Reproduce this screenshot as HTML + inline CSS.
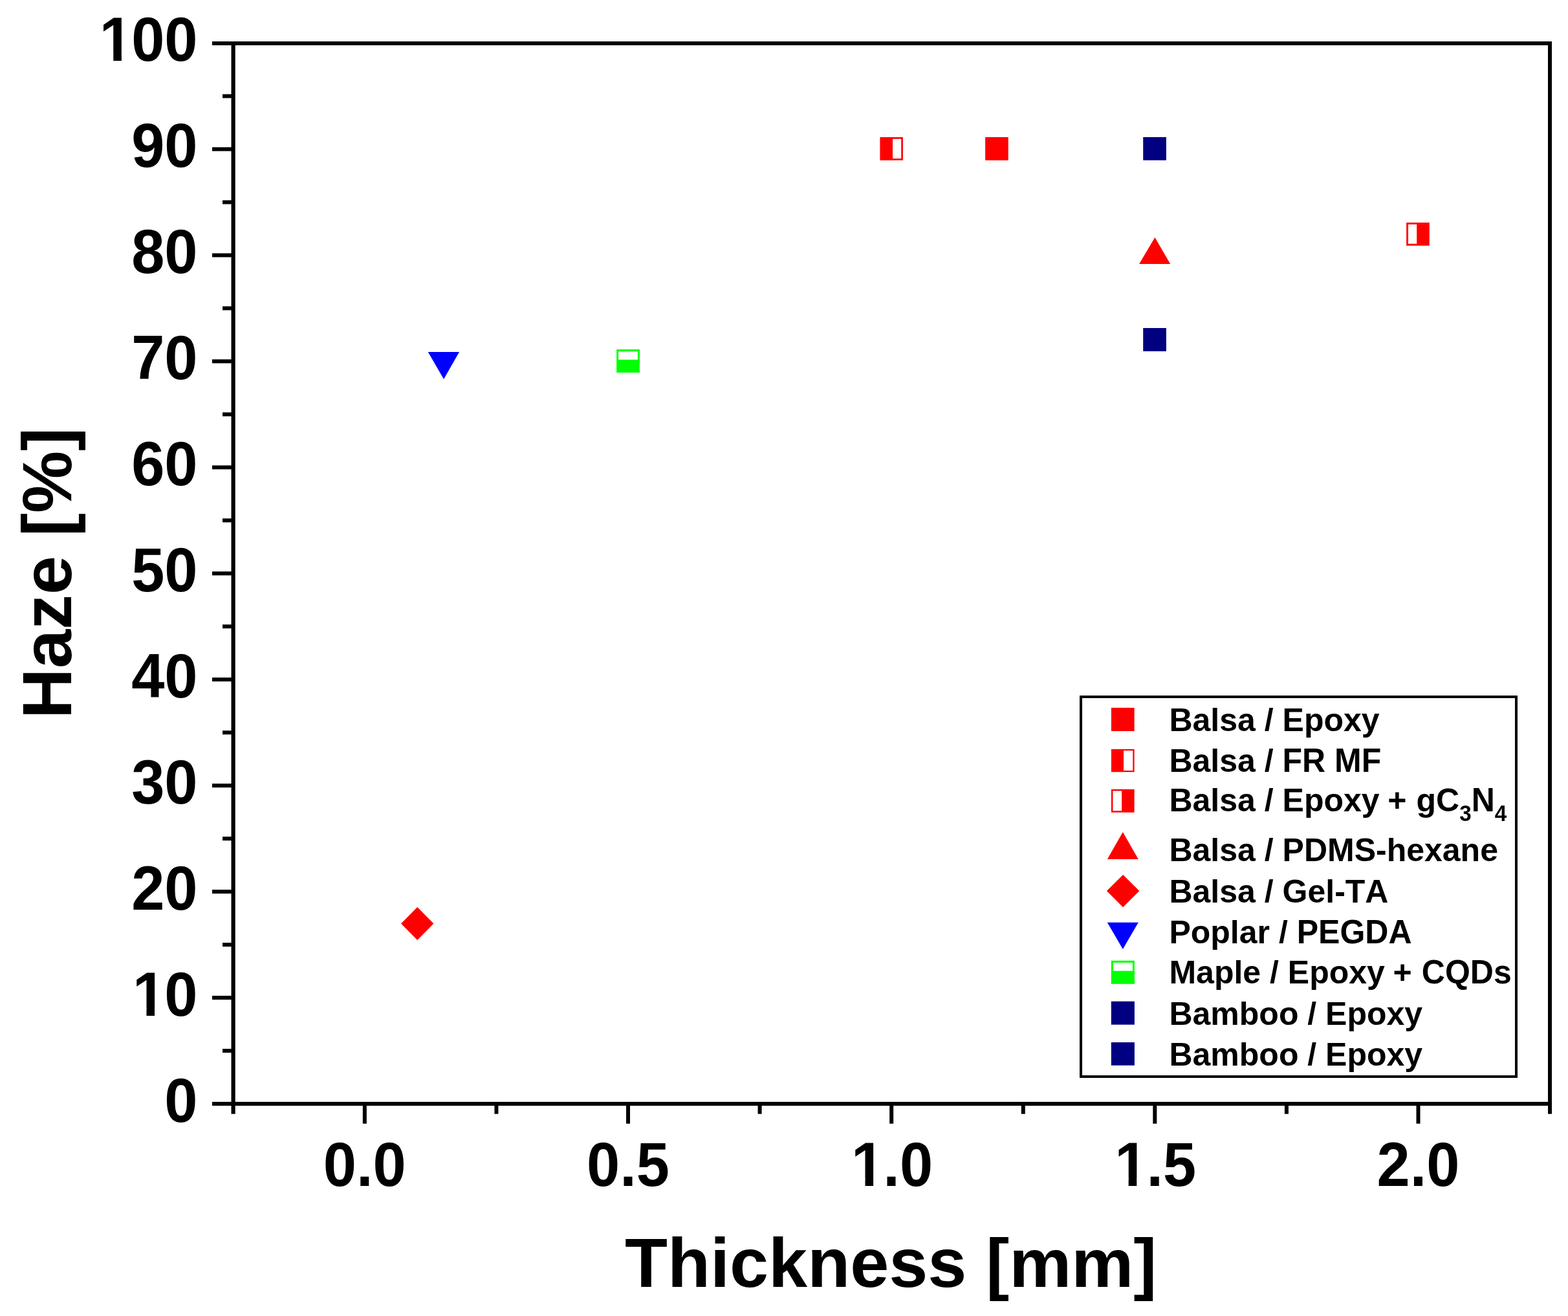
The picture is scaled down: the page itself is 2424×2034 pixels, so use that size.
<!DOCTYPE html>
<html lang="en"><head><meta charset="utf-8"><title>Haze vs Thickness</title>
<style>
html,body{margin:0;padding:0;background:#fff;width:2424px;height:2034px;}
svg{display:block;}
.t{font-family:"Liberation Sans",Arial,sans-serif;font-weight:bold;fill:#000;font-kerning:none;font-feature-settings:"kern" 0;white-space:pre;}
</style></head>
<body>
<svg width="2424" height="2034" viewBox="0 0 2424 2034">
<rect x="0" y="0" width="2424" height="2034" fill="#fff"/>
<rect x="328" y="64" width="2071" height="6" fill="#000"/>
<rect x="357.5" y="64" width="6.2" height="1657.7" fill="#000"/>
<rect x="2393" y="64" width="6" height="1657.7" fill="#000"/>
<rect x="357.5" y="1703" width="2041.5" height="6" fill="#000"/>
<rect x="328" y="1703.00" width="33" height="6" fill="#000"/>
<rect x="344" y="1621.03" width="17" height="6" fill="#000"/>
<rect x="328" y="1539.06" width="33" height="6" fill="#000"/>
<rect x="344" y="1457.09" width="17" height="6" fill="#000"/>
<rect x="328" y="1375.12" width="33" height="6" fill="#000"/>
<rect x="344" y="1293.15" width="17" height="6" fill="#000"/>
<rect x="328" y="1211.18" width="33" height="6" fill="#000"/>
<rect x="344" y="1129.21" width="17" height="6" fill="#000"/>
<rect x="328" y="1047.24" width="33" height="6" fill="#000"/>
<rect x="344" y="965.27" width="17" height="6" fill="#000"/>
<rect x="328" y="883.30" width="33" height="6" fill="#000"/>
<rect x="344" y="801.33" width="17" height="6" fill="#000"/>
<rect x="328" y="719.36" width="33" height="6" fill="#000"/>
<rect x="344" y="637.39" width="17" height="6" fill="#000"/>
<rect x="328" y="555.42" width="33" height="6" fill="#000"/>
<rect x="344" y="473.45" width="17" height="6" fill="#000"/>
<rect x="328" y="391.48" width="33" height="6" fill="#000"/>
<rect x="344" y="309.51" width="17" height="6" fill="#000"/>
<rect x="328" y="227.54" width="33" height="6" fill="#000"/>
<rect x="344" y="145.57" width="17" height="6" fill="#000"/>
<rect x="560.80" y="1705" width="6" height="31.7" fill="#000"/>
<rect x="764.39" y="1705" width="6" height="16.7" fill="#000"/>
<rect x="967.97" y="1705" width="6" height="31.7" fill="#000"/>
<rect x="1171.56" y="1705" width="6" height="16.7" fill="#000"/>
<rect x="1375.15" y="1705" width="6" height="31.7" fill="#000"/>
<rect x="1578.74" y="1705" width="6" height="16.7" fill="#000"/>
<rect x="1782.33" y="1705" width="6" height="31.7" fill="#000"/>
<rect x="1985.91" y="1705" width="6" height="16.7" fill="#000"/>
<rect x="2189.50" y="1705" width="6" height="31.7" fill="#000"/>
<text class="t" font-size="92" x="254.33" y="0" transform="translate(0 1733.50) scale(1 1.045)">0</text>
<text class="t" font-size="92" x="204.97 254.33" y="0" transform="translate(0 1569.56) scale(1 1.045)">10</text>
<text class="t" font-size="92" x="203.17 254.33" y="0" transform="translate(0 1405.62) scale(1 1.045)">20</text>
<text class="t" font-size="92" x="203.17 254.33" y="0" transform="translate(0 1241.68) scale(1 1.045)">30</text>
<text class="t" font-size="92" x="203.17 254.33" y="0" transform="translate(0 1077.74) scale(1 1.045)">40</text>
<text class="t" font-size="92" x="203.17 254.33" y="0" transform="translate(0 913.80) scale(1 1.045)">50</text>
<text class="t" font-size="92" x="203.17 254.33" y="0" transform="translate(0 749.86) scale(1 1.045)">60</text>
<text class="t" font-size="92" x="203.17 254.33" y="0" transform="translate(0 585.92) scale(1 1.045)">70</text>
<text class="t" font-size="92" x="203.17 254.33" y="0" transform="translate(0 421.98) scale(1 1.045)">80</text>
<text class="t" font-size="92" x="203.17 254.33" y="0" transform="translate(0 258.04) scale(1 1.045)">90</text>
<text class="t" font-size="92" x="153.80 203.17 254.33" y="0" transform="translate(0 94.10) scale(1 1.045)">100</text>
<text class="t" font-size="92" x="499.85 551.02 576.58" y="0" transform="translate(0 1832.70) scale(1 1.045)">0.0</text>
<text class="t" font-size="92" x="907.03 958.19 983.76" y="0" transform="translate(0 1832.70) scale(1 1.045)">0.5</text>
<text class="t" font-size="92" x="1316.00 1365.37 1390.93" y="0" transform="translate(0 1832.70) scale(1 1.045)">1.0</text>
<text class="t" font-size="92" x="1723.18 1772.54 1798.11" y="0" transform="translate(0 1832.70) scale(1 1.045)">1.5</text>
<text class="t" font-size="92" x="2128.55 2179.72 2205.28" y="0" transform="translate(0 1832.70) scale(1 1.045)">2.0</text>
<rect x="208.97" y="1558.55" width="17.47" height="12.51" fill="#fff"/>
<rect x="239.06" y="1558.55" width="16.31" height="12.51" fill="#fff"/>
<rect x="157.80" y="83.09" width="17.47" height="12.51" fill="#fff"/>
<rect x="187.90" y="83.09" width="16.31" height="12.51" fill="#fff"/>
<rect x="1320.00" y="1821.69" width="17.47" height="12.51" fill="#fff"/>
<rect x="1350.10" y="1821.69" width="16.31" height="12.51" fill="#fff"/>
<rect x="1727.18" y="1821.69" width="17.47" height="12.51" fill="#fff"/>
<rect x="1757.27" y="1821.69" width="16.31" height="12.51" fill="#fff"/>
<text class="t" y="1988.75"><tspan x="966.10" y="1988.75" font-size="107.04" textLength="528.24" lengthAdjust="spacingAndGlyphs">Thickness</tspan> <tspan x="1524.35" y="1988.75" font-size="105.57" textLength="263.99" lengthAdjust="spacingAndGlyphs">[mm]</tspan></text>
<text class="t" y="0" transform="translate(109.8 1111.0) rotate(-90)"><tspan x="0.00" y="0.00" font-size="107.87" textLength="252.12" lengthAdjust="spacingAndGlyphs">Haze</tspan> <tspan x="282.13" y="0.00" font-size="107.64" textLength="167.96" lengthAdjust="spacingAndGlyphs">[%]</tspan></text>
<rect x="1523.1" y="211.9" width="35.60" height="35.85" fill="#ff0000"/>
<rect x="1360.4" y="212.0" width="35.50" height="35.75" fill="#ff0000"/>
<rect x="1380.0" y="214.7" width="13.20" height="30.30" fill="#fff"/>
<rect x="2174.1" y="344.0" width="35.70" height="35.70" fill="#ff0000"/>
<rect x="2177.0" y="346.8" width="13.20" height="29.95" fill="#fff"/>
<polygon points="1785.4,366.9 1809.2,407.9 1761.0,407.9" fill="#ff0000"/>
<polygon points="645.2,1402.1 670.4,1427.5 645.2,1452.9 620.0,1427.5" fill="#ff0000"/>
<polygon points="661.7,544.0 710.0,544.0 686.0,586.0" fill="#0000ff"/>
<rect x="953.1" y="540.0" width="35.80" height="35.90" fill="#00ff00"/>
<rect x="956.1" y="543.2" width="29.75" height="12.70" fill="#fff"/>
<rect x="1767.2" y="211.9" width="35.70" height="35.80" fill="#000080"/>
<rect x="1767.2" y="507.0" width="35.70" height="35.90" fill="#000080"/>
<rect x="1671" y="1077" width="673" height="587" fill="#fff" stroke="#000" stroke-width="4"/>
<rect x="1717.9" y="1093.9" width="35.70" height="36.10" fill="#ff0000"/>
<rect x="1717.9" y="1157.85" width="35.70" height="35.35" fill="#ff0000"/>
<rect x="1737.0" y="1160.1" width="14.30" height="30.90" fill="#fff"/>
<rect x="1717.9" y="1219.9" width="35.70" height="35.80" fill="#ff0000"/>
<rect x="1720.4" y="1222.4" width="13.70" height="30.80" fill="#fff"/>
<polygon points="1735.8,1285.9 1759.8,1327.9 1711.8,1327.9" fill="#ff0000"/>
<polygon points="1736.1,1351.9 1761.3,1377.0 1736.1,1402.2 1710.9,1377.0" fill="#ff0000"/>
<polygon points="1711.8,1425.7 1759.8,1425.7 1735.8,1466.9" fill="#0000ff"/>
<rect x="1717.8" y="1484.75" width="36.10" height="36.05" fill="#00ff00"/>
<rect x="1720.9" y="1487.9" width="30.00" height="12.70" fill="#fff"/>
<rect x="1717.8" y="1547.7" width="36.10" height="36.00" fill="#000080"/>
<rect x="1717.8" y="1611.0" width="36.10" height="35.70" fill="#000080"/>
<text class="t" y="1130.1"><tspan x="1807.45" y="1130.10" font-size="49.80" textLength="133.42" lengthAdjust="spacingAndGlyphs">Balsa</tspan> <tspan x="1954.76" y="1129.14" font-size="48.05" textLength="13.89" lengthAdjust="spacingAndGlyphs">/</tspan> <tspan x="1982.55" y="1130.10" font-size="49.80" textLength="150.05" lengthAdjust="spacingAndGlyphs">Epoxy</tspan></text>
<text class="t" y="1193.3"><tspan x="1807.45" y="1193.30" font-size="49.80" textLength="133.42" lengthAdjust="spacingAndGlyphs">Balsa</tspan> <tspan x="1954.76" y="1192.34" font-size="48.05" textLength="13.89" lengthAdjust="spacingAndGlyphs">/</tspan> <tspan x="1982.55" y="1193.30" font-size="52.00" textLength="66.65" lengthAdjust="spacingAndGlyphs">FR</tspan> <tspan x="2063.09" y="1193.30" font-size="52.00" textLength="72.19" lengthAdjust="spacingAndGlyphs">MF</tspan></text>
<text class="t" y="1254.4"><tspan x="1807.45" y="1254.40" font-size="49.80" textLength="133.42" lengthAdjust="spacingAndGlyphs">Balsa</tspan> <tspan x="1954.76" y="1253.44" font-size="48.05" textLength="13.89" lengthAdjust="spacingAndGlyphs">/</tspan> <tspan x="1982.55" y="1254.40" font-size="49.80" textLength="150.05" lengthAdjust="spacingAndGlyphs">Epoxy</tspan> <tspan x="2145.19" y="1254.40" font-size="50.00">+</tspan> <tspan x="2189.58" y="1254.40" font-size="50.62" textLength="66.65" lengthAdjust="spacingAndGlyphs">gC</tspan><tspan x="2256.23" y="1269.00" font-size="34.69" textLength="18.46" lengthAdjust="spacingAndGlyphs">3</tspan><tspan x="2274.69" y="1254.40" font-size="52.00" textLength="36.11" lengthAdjust="spacingAndGlyphs">N</tspan><tspan x="2310.80" y="1269.00" font-size="34.69" textLength="18.46" lengthAdjust="spacingAndGlyphs">4</tspan></text>
<text class="t" y="1331.0"><tspan x="1807.45" y="1331.00" font-size="49.80" textLength="133.42" lengthAdjust="spacingAndGlyphs">Balsa</tspan> <tspan x="1954.76" y="1330.04" font-size="48.05" textLength="13.89" lengthAdjust="spacingAndGlyphs">/</tspan> <tspan x="1982.55" y="1331.00" font-size="50.32" textLength="333.42" lengthAdjust="spacingAndGlyphs">PDMS-hexane</tspan></text>
<text class="t" y="1394.8"><tspan x="1807.45" y="1394.80" font-size="49.80" textLength="133.42" lengthAdjust="spacingAndGlyphs">Balsa</tspan> <tspan x="1954.76" y="1393.84" font-size="48.05" textLength="13.89" lengthAdjust="spacingAndGlyphs">/</tspan> <tspan x="1982.55" y="1394.80" font-size="50.75" textLength="163.89" lengthAdjust="spacingAndGlyphs">Gel-TA</tspan></text>
<text class="t" y="1457.8"><tspan x="1807.45" y="1457.80" font-size="49.71" textLength="155.59" lengthAdjust="spacingAndGlyphs">Poplar</tspan> <tspan x="1976.93" y="1456.84" font-size="48.05" textLength="13.89" lengthAdjust="spacingAndGlyphs">/</tspan> <tspan x="2004.72" y="1457.80" font-size="52.00" textLength="177.81" lengthAdjust="spacingAndGlyphs">PEGDA</tspan></text>
<text class="t" y="1519.9"><tspan x="1807.45" y="1519.90" font-size="49.80" textLength="141.70" lengthAdjust="spacingAndGlyphs">Maple</tspan> <tspan x="1963.04" y="1518.94" font-size="48.05" textLength="13.89" lengthAdjust="spacingAndGlyphs">/</tspan> <tspan x="1990.82" y="1519.90" font-size="49.80" textLength="150.05" lengthAdjust="spacingAndGlyphs">Epoxy</tspan> <tspan x="2153.46" y="1519.90" font-size="50.00">+</tspan> <tspan x="2197.86" y="1519.90" font-size="51.31" textLength="138.92" lengthAdjust="spacingAndGlyphs">CQDs</tspan></text>
<text class="t" y="1583.5"><tspan x="1807.45" y="1583.50" font-size="49.71" textLength="200.00" lengthAdjust="spacingAndGlyphs">Bamboo</tspan> <tspan x="2021.34" y="1582.54" font-size="48.05" textLength="13.89" lengthAdjust="spacingAndGlyphs">/</tspan> <tspan x="2049.12" y="1583.50" font-size="49.80" textLength="150.05" lengthAdjust="spacingAndGlyphs">Epoxy</tspan></text>
<text class="t" y="1647.0"><tspan x="1807.45" y="1647.00" font-size="49.71" textLength="200.00" lengthAdjust="spacingAndGlyphs">Bamboo</tspan> <tspan x="2021.34" y="1646.04" font-size="48.05" textLength="13.89" lengthAdjust="spacingAndGlyphs">/</tspan> <tspan x="2049.12" y="1647.00" font-size="49.80" textLength="150.05" lengthAdjust="spacingAndGlyphs">Epoxy</tspan></text>
</svg>
</body></html>
